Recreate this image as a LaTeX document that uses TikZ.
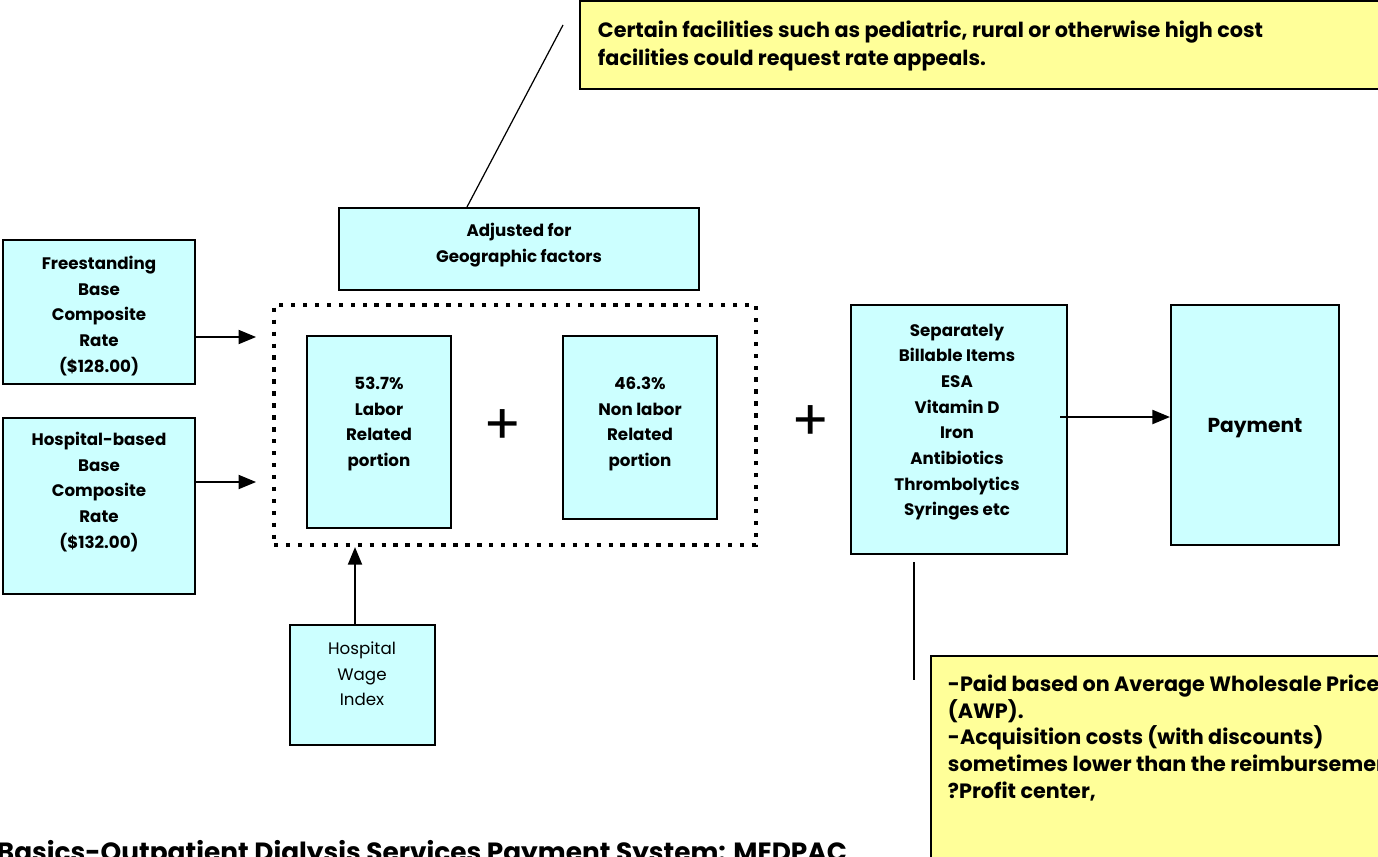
\documentclass[tikz,border=0pt]{standalone}
\usepackage{fontspec}
\setmainfont{Poppins}
\usetikzlibrary{arrows.meta,fit,shadows}
\definecolor{cyanfill}{RGB}{204,255,255}
\definecolor{notefill}{RGB}{255,255,153}
\tikzset{
  ratebox/.style={draw, line width=1.2pt, fill=cyanfill, inner sep=0pt,
    drop shadow={shadow xshift=.8pt, shadow yshift=-.8pt, fill=black!45, opacity=1}},
  notebox/.style={draw, line width=1.3pt, fill=notefill, inner sep=0pt},
  groupbox/.style={draw, line width=2.4pt, dash pattern=on 2.5pt off 4.3pt, inner sep=0pt},
  boxtext/.style={align=center, inner sep=0pt, font=\bfseries\fontsize{9.5}{14.6}\selectfont},
  notetext/.style={align=left, anchor=west, inner sep=0pt, font=\bfseries\fontsize{11.8}{15.2}\selectfont},
  plussign/.style={inner sep=0pt, font=\fontsize{32}{32}\selectfont},
}
\begin{document}
\begin{tikzpicture}[x=0.02cm, y=-0.02cm, >={Triangle[length=10pt,width=8pt]}, line width=1.1pt]
\useasboundingbox (0,0) rectangle (1378,856);
\clip (0,0) rectangle (1378,856);

% notes
\node[notebox, fit={(580,1) (1400,89)}] (appeal) {};
\node[notetext, font=\bfseries\fontsize{11.8}{16}\selectfont] (appealtxt) at (597,46) {Certain facilities such as pediatric, rural or otherwise high cost\\facilities could request rate appeals.};
\node[notebox, fit={(931,656) (1400,880)}] (awp) {};
\node[notetext] (awptxt) at (947,738) {-Paid based on Average Wholesale Price\\(AWP).\\-Acquisition costs (with discounts)\\sometimes lower than the reimbursement\\?Profit center,};

% rate boxes
\node[ratebox, fit={(3,240) (195,384)}] (free) {};
\node[boxtext] (freetxt) at (99,316) {Freestanding\\Base\\Composite\\Rate\\(\$128.00)};
\node[ratebox, fit={(3,418) (195,594)}] (hosp) {};
\node[boxtext] (hosptxt) at (99,492) {Hospital-based\\Base\\Composite\\Rate\\(\$132.00)};
\node[ratebox, fit={(339,208) (699,290)}] (adj) {};
\node[boxtext] (adjtxt) at (519,245) {Adjusted for\\Geographic factors};

% composite rate split
\node[groupbox, fit={(274,305) (756,545)}] (group) {};
\node[ratebox, fit={(307,336) (451,528)}] (labor) {};
\node[boxtext] (labortxt) at (379,424) {53.7\%\\Labor\\Related\\portion};
\node[ratebox, fit={(563,336) (717,519)}] (nonlabor) {};
\node[boxtext] (nonlabortxt) at (640,424) {46.3\%\\Non labor\\Related\\portion};
\node[plussign] (plusa) at (503,427) {+};
\node[plussign] (plusb) at (811,423) {+};

\node[ratebox, fit={(851,305) (1067,554)}] (sep) {};
\node[boxtext] (septxt) at (957,422) {Separately\\Billable Items\\ESA\\Vitamin D\\Iron\\Antibiotics\\Thrombolytics\\Syringes etc};
\node[ratebox, fit={(1171,305) (1339,545)}] (pay) {};
\node[boxtext, font=\bfseries\fontsize{11.5}{14.6}\selectfont] (paytxt) at (1255,428) {Payment};

\node[ratebox, fit={(290,625) (435,745)}] (wage) {};
\node[boxtext, font=\fontsize{9.5}{14.6}\selectfont] (wagetxt) at (362,674) {Hospital\\Wage\\Index};

\node[anchor=base west, inner sep=0pt, font=\bfseries\fontsize{15}{15}\selectfont] (title) at (-4,861) {Basics-Outpatient Dialysis Services Payment System: MEDPAC};

% connectors
\draw[->, shorten >=9pt] (free.east |- 0,337) -- (group.west |- 0,337);
\draw[->, shorten >=9pt] (hosp.east |- 0,482) -- (group.west |- 0,482);
\draw[->] (355,0 |- wage.north) -- (355,0 |- group.south);
\draw[->, shorten <=-4.5pt] (sep.east |- 0,417) -- (pay.west |- 0,417);
\coordinate (appealtip) at (563,25);
\draw[line width=.7pt] (appealtip) -- (467,0 |- adj.north);
\coordinate (sepfoot) at (914,562);
\coordinate (awpfoot) at (914,680);
\draw[line width=1.6pt] (sepfoot) -- (awpfoot);
\end{tikzpicture}
\end{document}
